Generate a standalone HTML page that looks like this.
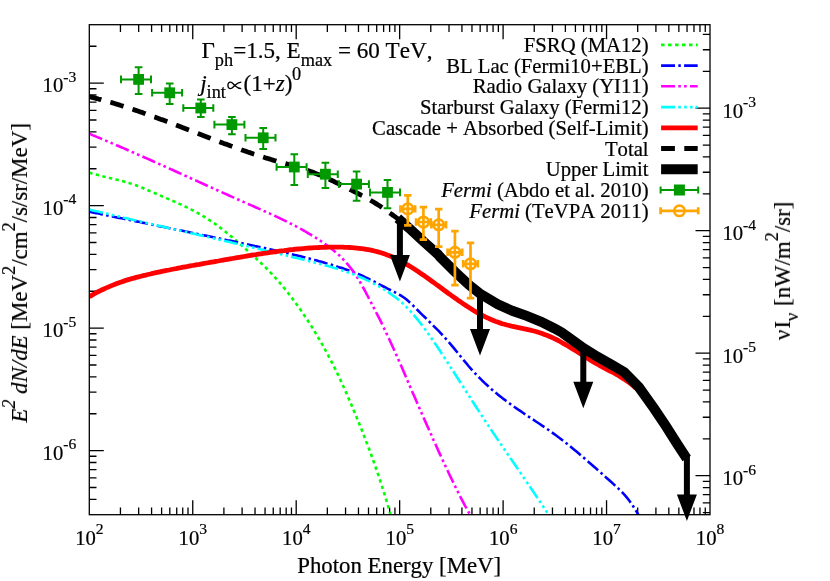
<!DOCTYPE html>
<html><head><meta charset="utf-8"><title>Plot</title>
<style>html,body{margin:0;padding:0;background:#fff}body{width:830px;height:581px;overflow:hidden;font-family:"Liberation Serif",serif}</style></head>
<body>
<svg width="830" height="581" viewBox="0 0 830 581" style="display:block">
<rect width="830" height="581" fill="#fff"/>
<defs><filter id="tf" x="0" y="0" width="100%" height="100%" filterUnits="userSpaceOnUse" color-interpolation-filters="sRGB"><feOffset dx="0" dy="0"/></filter><clipPath id="cp"><rect x="89.3" y="24.7" width="620.7" height="490.00000000000006"/></clipPath></defs>
<path d="M120.44,514.7v-7.2M120.44,24.7v7.2M138.66,514.7v-7.2M138.66,24.7v7.2M151.58,514.7v-7.2M151.58,24.7v7.2M161.61,514.7v-7.2M161.61,24.7v7.2M169.80,514.7v-7.2M169.80,24.7v7.2M176.73,514.7v-7.2M176.73,24.7v7.2M182.72,514.7v-7.2M182.72,24.7v7.2M188.02,514.7v-7.2M188.02,24.7v7.2M192.75,514.7v-14.5M192.75,24.7v14.5M223.89,514.7v-7.2M223.89,24.7v7.2M242.11,514.7v-7.2M242.11,24.7v7.2M255.03,514.7v-7.2M255.03,24.7v7.2M265.06,514.7v-7.2M265.06,24.7v7.2M273.25,514.7v-7.2M273.25,24.7v7.2M280.18,514.7v-7.2M280.18,24.7v7.2M286.17,514.7v-7.2M286.17,24.7v7.2M291.47,514.7v-7.2M291.47,24.7v7.2M296.20,514.7v-14.5M296.20,24.7v14.5M327.34,514.7v-7.2M327.34,24.7v7.2M345.56,514.7v-7.2M345.56,24.7v7.2M358.48,514.7v-7.2M358.48,24.7v7.2M368.51,514.7v-7.2M368.51,24.7v7.2M376.70,514.7v-7.2M376.70,24.7v7.2M383.63,514.7v-7.2M383.63,24.7v7.2M389.62,514.7v-7.2M389.62,24.7v7.2M394.92,514.7v-7.2M394.92,24.7v7.2M399.65,514.7v-14.5M399.65,24.7v14.5M430.79,514.7v-7.2M430.79,24.7v7.2M449.01,514.7v-7.2M449.01,24.7v7.2M461.93,514.7v-7.2M461.93,24.7v7.2M471.96,514.7v-7.2M471.96,24.7v7.2M480.15,514.7v-7.2M480.15,24.7v7.2M487.08,514.7v-7.2M487.08,24.7v7.2M493.07,514.7v-7.2M493.07,24.7v7.2M498.37,514.7v-7.2M498.37,24.7v7.2M503.10,514.7v-14.5M503.10,24.7v14.5M534.24,514.7v-7.2M534.24,24.7v7.2M552.46,514.7v-7.2M552.46,24.7v7.2M565.38,514.7v-7.2M565.38,24.7v7.2M575.41,514.7v-7.2M575.41,24.7v7.2M583.60,514.7v-7.2M583.60,24.7v7.2M590.53,514.7v-7.2M590.53,24.7v7.2M596.52,514.7v-7.2M596.52,24.7v7.2M601.82,514.7v-7.2M601.82,24.7v7.2M606.55,514.7v-14.5M606.55,24.7v14.5M637.69,514.7v-7.2M637.69,24.7v7.2M655.91,514.7v-7.2M655.91,24.7v7.2M668.83,514.7v-7.2M668.83,24.7v7.2M678.86,514.7v-7.2M678.86,24.7v7.2M687.05,514.7v-7.2M687.05,24.7v7.2M693.98,514.7v-7.2M693.98,24.7v7.2M699.97,514.7v-7.2M699.97,24.7v7.2M705.27,514.7v-7.2M705.27,24.7v7.2M89.3,499.40h7.2M89.3,487.52h7.2M710.0,512.59h-7.2M89.3,477.82h7.2M710.0,502.89h-7.2M89.3,469.62h7.2M710.0,494.69h-7.2M89.3,462.52h7.2M710.0,487.59h-7.2M89.3,456.25h7.2M710.0,481.32h-7.2M89.3,450.65h14.5M710.0,475.72h-14.5M89.3,413.77h7.2M710.0,438.84h-7.2M89.3,392.20h7.2M710.0,417.27h-7.2M89.3,376.90h7.2M710.0,401.97h-7.2M89.3,365.02h7.2M710.0,390.09h-7.2M89.3,355.32h7.2M710.0,380.39h-7.2M89.3,347.12h7.2M710.0,372.19h-7.2M89.3,340.02h7.2M710.0,365.09h-7.2M89.3,333.75h7.2M710.0,358.82h-7.2M89.3,328.15h14.5M710.0,353.22h-14.5M89.3,291.27h7.2M710.0,316.34h-7.2M89.3,269.70h7.2M710.0,294.77h-7.2M89.3,254.40h7.2M710.0,279.47h-7.2M89.3,242.52h7.2M710.0,267.59h-7.2M89.3,232.82h7.2M710.0,257.89h-7.2M89.3,224.62h7.2M710.0,249.69h-7.2M89.3,217.52h7.2M710.0,242.59h-7.2M89.3,211.25h7.2M710.0,236.32h-7.2M89.3,205.65h14.5M710.0,230.72h-14.5M89.3,168.77h7.2M710.0,193.84h-7.2M89.3,147.20h7.2M710.0,172.27h-7.2M89.3,131.90h7.2M710.0,156.97h-7.2M89.3,120.02h7.2M710.0,145.09h-7.2M89.3,110.32h7.2M710.0,135.39h-7.2M89.3,102.12h7.2M710.0,127.19h-7.2M89.3,95.02h7.2M710.0,120.09h-7.2M89.3,88.75h7.2M710.0,113.82h-7.2M89.3,83.15h14.5M710.0,108.22h-14.5M89.3,46.27h7.2M710.0,71.34h-7.2M710.0,49.77h-7.2M710.0,34.47h-7.2" stroke="#000" stroke-width="1.3" fill="none"/>
<g clip-path="url(#cp)" fill="none" stroke-linejoin="round">
<path d="M89.3,172.7 L90.6,173.1 L91.8,173.4 L93.1,173.8 L94.3,174.1 L95.6,174.5 L96.9,174.8 L98.1,175.1 L99.4,175.4 L100.6,175.7 L101.9,176.1 L103.2,176.4 L104.4,176.7 L105.7,177.0 L106.9,177.3 L108.2,177.6 L109.5,177.9 L110.7,178.2 L112.0,178.5 L113.3,178.8 L114.5,179.1 L115.8,179.4 L117.0,179.7 L118.3,180.0 L119.6,180.3 L120.8,180.7 L122.1,181.0 L123.3,181.3 L124.6,181.7 L125.9,182.0 L127.1,182.4 L128.4,182.8 L129.6,183.2 L130.9,183.6 L132.2,184.0 L133.4,184.4 L134.7,184.9 L135.9,185.3 L137.2,185.8 L138.5,186.3 L139.7,186.8 L141.0,187.3 L142.2,187.8 L143.5,188.3 L144.8,188.9 L146.0,189.4 L147.3,189.9 L148.6,190.5 L149.8,191.1 L151.1,191.6 L152.3,192.2 L153.6,192.7 L154.9,193.2 L156.1,193.8 L157.4,194.3 L158.6,194.9 L159.9,195.4 L161.2,195.9 L162.4,196.5 L163.7,197.0 L164.9,197.5 L166.2,198.1 L167.5,198.6 L168.7,199.1 L170.0,199.7 L171.2,200.2 L172.5,200.8 L173.8,201.3 L175.0,201.9 L176.3,202.4 L177.5,203.0 L178.8,203.6 L180.1,204.1 L181.3,204.7 L182.6,205.3 L183.9,205.9 L185.1,206.5 L186.4,207.1 L187.6,207.7 L188.9,208.3 L190.2,208.9 L191.4,209.6 L192.7,210.2 L193.9,210.9 L195.2,211.6 L196.5,212.3 L197.7,213.0 L199.0,213.7 L200.2,214.4 L201.5,215.1 L202.8,215.9 L204.0,216.6 L205.3,217.4 L206.5,218.2 L207.8,219.0 L209.1,219.8 L210.3,220.6 L211.6,221.5 L212.8,222.4 L214.1,223.2 L215.4,224.1 L216.6,225.1 L217.9,226.0 L219.1,226.9 L220.4,227.9 L221.7,228.8 L222.9,229.8 L224.2,230.8 L225.5,231.8 L226.7,232.8 L228.0,233.8 L229.2,234.8 L230.5,235.9 L231.8,236.9 L233.0,238.0 L234.3,239.1 L235.5,240.1 L236.8,241.2 L238.1,242.3 L239.3,243.4 L240.6,244.5 L241.8,245.6 L243.1,246.7 L244.4,247.8 L245.6,249.0 L246.9,250.1 L248.1,251.2 L249.4,252.4 L250.7,253.5 L251.9,254.7 L253.2,255.8 L254.4,257.0 L255.7,258.1 L257.0,259.3 L258.2,260.4 L259.5,261.6 L260.8,262.8 L262.0,264.0 L263.3,265.2 L264.5,266.5 L265.8,267.7 L267.1,269.0 L268.3,270.3 L269.6,271.6 L270.8,272.9 L272.1,274.2 L273.4,275.6 L274.6,277.0 L275.9,278.4 L277.1,279.8 L278.4,281.2 L279.7,282.7 L280.9,284.2 L282.2,285.7 L283.4,287.2 L284.7,288.7 L286.0,290.3 L287.2,291.9 L288.5,293.5 L289.7,295.1 L291.0,296.7 L292.3,298.4 L293.5,300.1 L294.8,301.8 L296.0,303.5 L297.3,305.2 L298.6,307.0 L299.8,308.8 L301.1,310.6 L302.4,312.4 L303.6,314.3 L304.9,316.2 L306.1,318.1 L307.4,320.0 L308.7,321.9 L309.9,323.9 L311.2,325.9 L312.4,327.9 L313.7,330.0 L315.0,332.1 L316.2,334.1 L317.5,336.3 L318.7,338.4 L320.0,340.6 L321.3,342.8 L322.5,345.0 L323.8,347.3 L325.0,349.5 L326.3,351.8 L327.6,354.2 L328.8,356.6 L330.1,359.0 L331.3,361.4 L332.6,363.9 L333.9,366.4 L335.1,368.9 L336.4,371.5 L337.7,374.1 L338.9,376.7 L340.2,379.4 L341.4,382.1 L342.7,384.9 L344.0,387.7 L345.2,390.5 L346.5,393.4 L347.7,396.3 L349.0,399.2 L350.3,402.1 L351.5,405.1 L352.8,408.1 L354.0,411.1 L355.3,414.1 L356.6,417.2 L357.8,420.2 L359.1,423.3 L360.3,426.5 L361.6,429.6 L362.9,432.8 L364.1,436.0 L365.4,439.3 L366.6,442.6 L367.9,445.9 L369.2,449.3 L370.4,452.7 L371.7,456.2 L373.0,459.6 L374.2,463.2 L375.5,466.8 L376.7,470.4 L378.0,474.1 L379.3,477.8 L380.5,481.7 L381.8,485.5 L383.0,489.5 L384.3,493.5 L385.6,497.6 L386.8,501.8 L388.1,506.1 L389.3,510.4 L390.6,514.9" stroke="#00ff00" stroke-width="2.6" stroke-dasharray="3.38 3.38"/>
<path d="M89.3,211.7 L91.6,212.2 L93.9,212.7 L96.2,213.1 L98.5,213.6 L100.8,214.1 L103.1,214.5 L105.4,215.0 L107.7,215.5 L110.0,216.0 L112.3,216.4 L114.6,216.9 L116.9,217.4 L119.2,217.9 L121.5,218.3 L123.8,218.8 L126.1,219.3 L128.4,219.7 L130.7,220.2 L133.0,220.7 L135.3,221.2 L137.6,221.6 L139.9,222.1 L142.2,222.6 L144.5,223.0 L146.8,223.5 L149.1,224.0 L151.4,224.5 L153.7,224.9 L156.0,225.4 L158.2,225.9 L160.5,226.4 L162.8,226.8 L165.1,227.3 L167.4,227.8 L169.7,228.2 L172.0,228.7 L174.3,229.2 L176.6,229.7 L178.9,230.1 L181.2,230.6 L183.5,231.1 L185.8,231.6 L188.1,232.0 L190.4,232.5 L192.7,233.0 L195.0,233.5 L197.3,233.9 L199.6,234.4 L201.9,234.9 L204.2,235.4 L206.5,235.8 L208.8,236.3 L211.1,236.8 L213.4,237.3 L215.7,237.8 L218.0,238.2 L220.3,238.7 L222.6,239.2 L224.9,239.7 L227.2,240.2 L229.5,240.6 L231.8,241.1 L234.1,241.6 L236.4,242.1 L238.7,242.6 L241.0,243.0 L243.3,243.5 L245.6,244.0 L247.9,244.5 L250.2,245.0 L252.5,245.5 L254.8,246.0 L257.1,246.4 L259.4,246.9 L261.7,247.4 L264.0,247.9 L266.3,248.4 L268.6,248.9 L270.9,249.4 L273.2,249.9 L275.5,250.4 L277.8,250.9 L280.1,251.4 L282.4,252.0 L284.7,252.5 L287.0,253.0 L289.3,253.6 L291.6,254.1 L293.9,254.7 L296.1,255.2 L298.4,255.8 L300.7,256.3 L303.0,256.9 L305.3,257.5 L307.6,258.1 L309.9,258.7 L312.2,259.3 L314.5,259.9 L316.8,260.5 L319.1,261.2 L321.4,261.8 L323.7,262.5 L326.0,263.2 L328.3,263.8 L330.6,264.5 L332.9,265.2 L335.2,265.9 L337.5,266.7 L339.8,267.4 L342.1,268.1 L344.4,268.9 L346.7,269.7 L349.0,270.5 L351.3,271.4 L353.6,272.2 L355.9,273.1 L358.2,274.0 L360.5,275.0 L362.8,276.0 L365.1,277.1 L367.4,278.1 L369.7,279.3 L372.0,280.4 L374.3,281.6 L376.6,282.8 L378.9,284.1 L381.2,285.3 L383.5,286.5 L385.8,287.7 L388.1,288.9 L390.4,290.0 L392.7,291.2 L395.0,292.3 L397.3,293.5 L399.6,294.8 L401.9,296.2 L404.2,297.8 L406.5,299.6 L408.8,301.6 L411.1,303.7 L413.4,305.9 L415.7,308.2 L418.0,310.5 L420.3,312.8 L422.6,315.1 L424.9,317.3 L427.2,319.5 L429.5,321.8 L431.8,324.0 L434.0,326.3 L436.3,328.6 L438.6,330.9 L440.9,333.3 L443.2,335.8 L445.5,338.3 L447.8,340.9 L450.1,343.6 L452.4,346.3 L454.7,349.1 L457.0,352.0 L459.3,354.8 L461.6,357.7 L463.9,360.5 L466.2,363.2 L468.5,366.0 L470.8,368.6 L473.1,371.2 L475.4,373.7 L477.7,376.1 L480.0,378.4 L482.3,380.7 L484.6,382.9 L486.9,385.0 L489.2,387.1 L491.5,389.2 L493.8,391.1 L496.1,393.1 L498.4,394.9 L500.7,396.8 L503.0,398.6 L505.3,400.3 L507.6,402.0 L509.9,403.7 L512.2,405.4 L514.5,407.0 L516.8,408.6 L519.1,410.2 L521.4,411.7 L523.7,413.3 L526.0,414.8 L528.3,416.4 L530.6,417.9 L532.9,419.4 L535.2,421.0 L537.5,422.5 L539.8,424.0 L542.1,425.6 L544.4,427.1 L546.7,428.7 L549.0,430.3 L551.3,432.0 L553.6,433.6 L555.9,435.3 L558.2,437.0 L560.5,438.7 L562.8,440.5 L565.1,442.3 L567.4,444.1 L569.7,445.9 L571.9,447.8 L574.2,449.7 L576.5,451.6 L578.8,453.5 L581.1,455.5 L583.4,457.4 L585.7,459.4 L588.0,461.4 L590.3,463.4 L592.6,465.4 L594.9,467.4 L597.2,469.5 L599.5,471.5 L601.8,473.6 L604.1,475.6 L606.4,477.7 L608.7,479.7 L611.0,481.8 L613.3,483.9 L615.6,486.0 L617.9,488.1 L620.2,490.3 L622.5,492.7 L624.8,495.2 L627.1,497.9 L629.4,500.8 L631.7,504.1 L634.0,507.5 L636.3,511.2 L638.6,515.2" stroke="#0000ff" stroke-width="2.6" stroke-dasharray="13.9 3.3 2.5 3.3"/>
<path d="M89.3,133.8 L90.9,134.4 L92.5,135.1 L94.1,135.7 L95.7,136.4 L97.3,137.1 L98.9,137.7 L100.5,138.4 L102.0,139.1 L103.6,139.7 L105.2,140.4 L106.8,141.1 L108.4,141.8 L110.0,142.4 L111.6,143.1 L113.2,143.8 L114.8,144.5 L116.4,145.2 L118.0,145.8 L119.6,146.5 L121.2,147.2 L122.8,147.9 L124.4,148.6 L126.0,149.3 L127.5,150.0 L129.1,150.7 L130.7,151.4 L132.3,152.1 L133.9,152.8 L135.5,153.5 L137.1,154.2 L138.7,154.9 L140.3,155.6 L141.9,156.3 L143.5,157.0 L145.1,157.7 L146.7,158.4 L148.3,159.1 L149.9,159.8 L151.5,160.5 L153.0,161.2 L154.6,162.0 L156.2,162.7 L157.8,163.4 L159.4,164.1 L161.0,164.8 L162.6,165.5 L164.2,166.2 L165.8,167.0 L167.4,167.7 L169.0,168.4 L170.6,169.1 L172.2,169.8 L173.8,170.5 L175.4,171.3 L177.0,172.0 L178.5,172.7 L180.1,173.4 L181.7,174.1 L183.3,174.9 L184.9,175.6 L186.5,176.3 L188.1,177.0 L189.7,177.7 L191.3,178.5 L192.9,179.2 L194.5,179.9 L196.1,180.6 L197.7,181.3 L199.3,182.1 L200.9,182.8 L202.5,183.5 L204.0,184.2 L205.6,185.0 L207.2,185.7 L208.8,186.4 L210.4,187.1 L212.0,187.8 L213.6,188.6 L215.2,189.3 L216.8,190.0 L218.4,190.7 L220.0,191.4 L221.6,192.1 L223.2,192.9 L224.8,193.6 L226.4,194.3 L228.0,195.0 L229.5,195.7 L231.1,196.4 L232.7,197.1 L234.3,197.9 L235.9,198.6 L237.5,199.3 L239.1,200.0 L240.7,200.7 L242.3,201.4 L243.9,202.1 L245.5,202.8 L247.1,203.5 L248.7,204.2 L250.3,204.9 L251.9,205.6 L253.5,206.3 L255.0,207.0 L256.6,207.7 L258.2,208.4 L259.8,209.1 L261.4,209.8 L263.0,210.5 L264.6,211.3 L266.2,212.0 L267.8,212.7 L269.4,213.4 L271.0,214.1 L272.6,214.8 L274.2,215.6 L275.8,216.3 L277.4,217.1 L279.0,217.8 L280.5,218.6 L282.1,219.3 L283.7,220.1 L285.3,220.9 L286.9,221.7 L288.5,222.5 L290.1,223.3 L291.7,224.1 L293.3,224.9 L294.9,225.7 L296.5,226.6 L298.1,227.4 L299.7,228.3 L301.3,229.2 L302.9,230.1 L304.5,231.0 L306.0,231.9 L307.6,232.8 L309.2,233.8 L310.8,234.7 L312.4,235.7 L314.0,236.7 L315.6,237.7 L317.2,238.7 L318.8,239.7 L320.4,240.8 L322.0,241.9 L323.6,243.0 L325.2,244.1 L326.8,245.2 L328.4,246.4 L330.0,247.6 L331.5,248.8 L333.1,250.1 L334.7,251.4 L336.3,252.7 L337.9,254.2 L339.5,255.6 L341.1,257.2 L342.7,258.8 L344.3,260.5 L345.9,262.2 L347.5,264.1 L349.1,266.0 L350.7,268.0 L352.3,270.1 L353.9,272.4 L355.5,274.7 L357.0,277.1 L358.6,279.6 L360.2,282.3 L361.8,285.1 L363.4,288.0 L365.0,290.9 L366.6,294.0 L368.2,297.0 L369.8,300.1 L371.4,303.2 L373.0,306.3 L374.6,309.4 L376.2,312.5 L377.8,315.6 L379.4,318.7 L381.0,321.9 L382.5,325.2 L384.1,328.4 L385.7,331.8 L387.3,335.1 L388.9,338.5 L390.5,342.0 L392.1,345.5 L393.7,349.0 L395.3,352.6 L396.9,356.1 L398.5,359.8 L400.1,363.4 L401.7,367.0 L403.3,370.7 L404.9,374.4 L406.5,378.1 L408.0,381.8 L409.6,385.5 L411.2,389.2 L412.8,392.9 L414.4,396.6 L416.0,400.3 L417.6,403.9 L419.2,407.6 L420.8,411.3 L422.4,414.9 L424.0,418.5 L425.6,422.1 L427.2,425.7 L428.8,429.3 L430.4,432.9 L432.0,436.4 L433.5,440.0 L435.1,443.5 L436.7,447.0 L438.3,450.6 L439.9,454.1 L441.5,457.5 L443.1,461.0 L444.7,464.5 L446.3,467.9 L447.9,471.3 L449.5,474.7 L451.1,478.0 L452.7,481.3 L454.3,484.6 L455.9,487.8 L457.5,491.0 L459.0,494.2 L460.6,497.3 L462.2,500.3 L463.8,503.3 L465.4,506.3 L467.0,509.1 L468.6,512.0 L470.2,514.7" stroke="#ff00ff" stroke-width="2.6" stroke-dasharray="13.9 3.3 2.6 3.2 2.6 3.3"/>
<path d="M89.3,209.5 L91.2,210.0 L93.1,210.4 L95.1,210.9 L97.0,211.3 L98.9,211.8 L100.8,212.2 L102.8,212.7 L104.7,213.2 L106.6,213.6 L108.5,214.1 L110.5,214.5 L112.4,215.0 L114.3,215.4 L116.2,215.9 L118.1,216.3 L120.1,216.8 L122.0,217.2 L123.9,217.7 L125.8,218.1 L127.8,218.5 L129.7,219.0 L131.6,219.4 L133.5,219.9 L135.5,220.3 L137.4,220.8 L139.3,221.2 L141.2,221.7 L143.1,222.1 L145.1,222.6 L147.0,223.0 L148.9,223.4 L150.8,223.9 L152.8,224.3 L154.7,224.8 L156.6,225.2 L158.5,225.7 L160.5,226.1 L162.4,226.5 L164.3,227.0 L166.2,227.4 L168.1,227.9 L170.1,228.3 L172.0,228.7 L173.9,229.2 L175.8,229.6 L177.8,230.1 L179.7,230.5 L181.6,231.0 L183.5,231.4 L185.5,231.8 L187.4,232.3 L189.3,232.7 L191.2,233.2 L193.1,233.6 L195.1,234.0 L197.0,234.5 L198.9,234.9 L200.8,235.4 L202.8,235.8 L204.7,236.3 L206.6,236.7 L208.5,237.1 L210.4,237.6 L212.4,238.0 L214.3,238.5 L216.2,238.9 L218.1,239.4 L220.1,239.8 L222.0,240.3 L223.9,240.7 L225.8,241.2 L227.8,241.6 L229.7,242.0 L231.6,242.5 L233.5,242.9 L235.4,243.4 L237.4,243.8 L239.3,244.3 L241.2,244.7 L243.1,245.2 L245.1,245.6 L247.0,246.1 L248.9,246.6 L250.8,247.0 L252.8,247.5 L254.7,247.9 L256.6,248.4 L258.5,248.8 L260.4,249.3 L262.4,249.7 L264.3,250.2 L266.2,250.7 L268.1,251.1 L270.1,251.6 L272.0,252.0 L273.9,252.5 L275.8,253.0 L277.8,253.4 L279.7,253.9 L281.6,254.4 L283.5,254.8 L285.4,255.3 L287.4,255.8 L289.3,256.2 L291.2,256.7 L293.1,257.2 L295.1,257.7 L297.0,258.1 L298.9,258.6 L300.8,259.1 L302.8,259.6 L304.7,260.0 L306.6,260.5 L308.5,261.0 L310.4,261.5 L312.4,262.0 L314.3,262.5 L316.2,262.9 L318.1,263.4 L320.1,263.9 L322.0,264.4 L323.9,265.0 L325.8,265.5 L327.8,266.0 L329.7,266.6 L331.6,267.1 L333.5,267.7 L335.4,268.2 L337.4,268.8 L339.3,269.4 L341.2,270.0 L343.1,270.7 L345.1,271.3 L347.0,272.0 L348.9,272.7 L350.8,273.4 L352.8,274.1 L354.7,274.8 L356.6,275.6 L358.5,276.4 L360.4,277.2 L362.4,278.0 L364.3,278.9 L366.2,279.8 L368.1,280.7 L370.1,281.6 L372.0,282.6 L373.9,283.6 L375.8,284.6 L377.8,285.7 L379.7,286.8 L381.6,287.9 L383.5,289.1 L385.4,290.3 L387.4,291.6 L389.3,292.9 L391.2,294.2 L393.1,295.6 L395.1,297.0 L397.0,298.5 L398.9,300.1 L400.8,301.7 L402.8,303.4 L404.7,305.2 L406.6,307.1 L408.5,309.1 L410.4,311.2 L412.4,313.3 L414.3,315.6 L416.2,317.9 L418.1,320.2 L420.1,322.7 L422.0,325.2 L423.9,327.7 L425.8,330.3 L427.8,333.0 L429.7,335.7 L431.6,338.5 L433.5,341.3 L435.4,344.1 L437.4,346.9 L439.3,349.8 L441.2,352.7 L443.1,355.7 L445.1,358.6 L447.0,361.5 L448.9,364.5 L450.8,367.5 L452.7,370.5 L454.7,373.5 L456.6,376.5 L458.5,379.5 L460.4,382.5 L462.4,385.5 L464.3,388.5 L466.2,391.5 L468.1,394.5 L470.1,397.5 L472.0,400.5 L473.9,403.5 L475.8,406.5 L477.7,409.4 L479.7,412.4 L481.6,415.4 L483.5,418.3 L485.4,421.2 L487.4,424.1 L489.3,427.0 L491.2,429.9 L493.1,432.8 L495.1,435.6 L497.0,438.5 L498.9,441.3 L500.8,444.1 L502.7,447.0 L504.7,449.8 L506.6,452.6 L508.5,455.4 L510.4,458.2 L512.4,461.0 L514.3,463.8 L516.2,466.6 L518.1,469.4 L520.1,472.2 L522.0,475.1 L523.9,477.9 L525.8,480.7 L527.7,483.5 L529.7,486.3 L531.6,489.2 L533.5,492.0 L535.4,494.9 L537.4,497.7 L539.3,500.6 L541.2,503.5 L543.1,506.4 L545.1,509.3 L547.0,512.2 L548.9,515.1" stroke="#00ffff" stroke-width="2.6" stroke-dasharray="13.9 3.3 2.6 3.25 2.6 3.25 2.6 3.05"/>
<path d="M89.3,296.8 L91.6,295.4 L94.0,294.0 L96.3,292.7 L98.7,291.5 L101.0,290.3 L103.4,289.2 L105.7,288.1 L108.1,287.1 L110.4,286.1 L112.8,285.1 L115.1,284.2 L117.5,283.3 L119.8,282.5 L122.1,281.7 L124.5,280.9 L126.8,280.1 L129.2,279.4 L131.5,278.7 L133.9,278.1 L136.2,277.4 L138.6,276.8 L140.9,276.2 L143.3,275.6 L145.6,275.1 L148.0,274.5 L150.3,274.0 L152.6,273.4 L155.0,272.9 L157.3,272.4 L159.7,271.9 L162.0,271.4 L164.4,270.9 L166.7,270.4 L169.1,270.0 L171.4,269.5 L173.8,269.0 L176.1,268.6 L178.4,268.1 L180.8,267.7 L183.1,267.2 L185.5,266.8 L187.8,266.4 L190.2,265.9 L192.5,265.5 L194.9,265.1 L197.2,264.7 L199.6,264.3 L201.9,263.8 L204.3,263.4 L206.6,263.0 L208.9,262.6 L211.3,262.2 L213.6,261.8 L216.0,261.4 L218.3,261.0 L220.7,260.5 L223.0,260.1 L225.4,259.7 L227.7,259.3 L230.1,258.9 L232.4,258.5 L234.8,258.1 L237.1,257.7 L239.4,257.3 L241.8,256.9 L244.1,256.5 L246.5,256.1 L248.8,255.7 L251.2,255.3 L253.5,254.9 L255.9,254.6 L258.2,254.2 L260.6,253.8 L262.9,253.5 L265.3,253.1 L267.6,252.8 L269.9,252.4 L272.3,252.1 L274.6,251.8 L277.0,251.5 L279.3,251.1 L281.7,250.8 L284.0,250.6 L286.4,250.3 L288.7,250.0 L291.1,249.7 L293.4,249.5 L295.8,249.2 L298.1,249.0 L300.4,248.8 L302.8,248.6 L305.1,248.4 L307.5,248.2 L309.8,248.0 L312.2,247.9 L314.5,247.7 L316.9,247.6 L319.2,247.5 L321.6,247.4 L323.9,247.3 L326.2,247.3 L328.6,247.2 L330.9,247.2 L333.3,247.1 L335.6,247.1 L338.0,247.1 L340.3,247.2 L342.7,247.2 L345.0,247.3 L347.4,247.4 L349.7,247.5 L352.1,247.7 L354.4,247.9 L356.7,248.1 L359.1,248.3 L361.4,248.6 L363.8,248.9 L366.1,249.3 L368.5,249.7 L370.8,250.2 L373.2,250.7 L375.5,251.3 L377.9,251.9 L380.2,252.5 L382.6,253.3 L384.9,254.1 L387.2,254.9 L389.6,255.8 L391.9,256.8 L394.3,257.8 L396.6,259.0 L399.0,260.1 L401.3,261.4 L403.7,262.6 L406.0,264.0 L408.4,265.4 L410.7,266.8 L413.1,268.3 L415.4,269.8 L417.7,271.3 L420.1,272.9 L422.4,274.5 L424.8,276.1 L427.1,277.8 L429.5,279.5 L431.8,281.2 L434.2,282.9 L436.5,284.6 L438.9,286.3 L441.2,288.0 L443.5,289.7 L445.9,291.5 L448.2,293.2 L450.6,294.9 L452.9,296.6 L455.3,298.2 L457.6,299.9 L460.0,301.5 L462.3,303.1 L464.7,304.7 L467.0,306.3 L469.4,307.8 L471.7,309.2 L474.0,310.7 L476.4,312.1 L478.7,313.4 L481.1,314.7 L483.4,315.9 L485.8,317.1 L488.1,318.2 L490.5,319.3 L492.8,320.3 L495.2,321.3 L497.5,322.1 L499.9,322.9 L502.2,323.7 L504.5,324.3 L506.9,325.0 L509.2,325.5 L511.6,326.1 L513.9,326.6 L516.3,327.1 L518.6,327.6 L521.0,328.1 L523.3,328.6 L525.7,329.1 L528.0,329.6 L530.4,330.1 L532.7,330.7 L535.0,331.3 L537.4,332.0 L539.7,332.7 L542.1,333.5 L544.4,334.4 L546.8,335.3 L549.1,336.2 L551.5,337.3 L553.8,338.4 L556.2,339.5 L558.5,340.7 L560.9,342.0 L563.2,343.3 L565.5,344.6 L567.9,346.0 L570.2,347.4 L572.6,348.9 L574.9,350.3 L577.3,351.8 L579.6,353.3 L582.0,354.8 L584.3,356.3 L586.7,357.8 L589.0,359.2 L591.3,360.7 L593.7,362.1 L596.0,363.4 L598.4,364.8 L600.7,366.1 L603.1,367.3 L605.4,368.5 L607.8,369.8 L610.1,371.0 L612.5,372.2 L614.8,373.5 L617.2,374.8 L619.5,376.2 L621.8,377.6 L624.2,379.1 L626.5,380.7 L628.9,382.4 L631.2,384.2 L633.6,386.1 L635.9,388.1 L638.3,390.3 L640.6,392.7 L643.0,395.2 L645.3,397.9 L647.7,400.8 L650.0,403.9" stroke="#ff0000" stroke-width="4.8"/>
<path d="M89.3,96.7 L90.6,97.0 L91.9,97.3 L93.2,97.6 L94.5,98.0 L95.8,98.3 L97.1,98.6 L98.4,99.0 L99.6,99.3 L100.9,99.6 L102.2,100.0 L103.5,100.3 L104.8,100.7 L106.1,101.1 L107.4,101.4 L108.7,101.8 L110.0,102.2 L111.3,102.5 L112.6,102.9 L113.9,103.3 L115.2,103.7 L116.5,104.1 L117.8,104.5 L119.1,104.9 L120.3,105.3 L121.6,105.7 L122.9,106.1 L124.2,106.5 L125.5,106.9 L126.8,107.3 L128.1,107.8 L129.4,108.2 L130.7,108.6 L132.0,109.1 L133.3,109.5 L134.6,109.9 L135.9,110.4 L137.2,110.8 L138.5,111.2 L139.8,111.7 L141.0,112.1 L142.3,112.6 L143.6,113.1 L144.9,113.5 L146.2,114.0 L147.5,114.4 L148.8,114.9 L150.1,115.4 L151.4,115.8 L152.7,116.3 L154.0,116.8 L155.3,117.2 L156.6,117.7 L157.9,118.2 L159.2,118.7 L160.5,119.2 L161.7,119.6 L163.0,120.1 L164.3,120.6 L165.6,121.1 L166.9,121.6 L168.2,122.1 L169.5,122.6 L170.8,123.1 L172.1,123.5 L173.4,124.0 L174.7,124.5 L176.0,125.0 L177.3,125.5 L178.6,126.0 L179.9,126.5 L181.2,127.0 L182.4,127.5 L183.7,128.0 L185.0,128.5 L186.3,129.0 L187.6,129.5 L188.9,130.0 L190.2,130.5 L191.5,131.0 L192.8,131.5 L194.1,132.0 L195.4,132.5 L196.7,133.0 L198.0,133.5 L199.3,134.0 L200.6,134.5 L201.9,135.0 L203.1,135.5 L204.4,136.0 L205.7,136.5 L207.0,137.0 L208.3,137.5 L209.6,138.0 L210.9,138.5 L212.2,139.0 L213.5,139.5 L214.8,140.0 L216.1,140.5 L217.4,140.9 L218.7,141.4 L220.0,141.9 L221.3,142.4 L222.6,142.9 L223.8,143.4 L225.1,143.9 L226.4,144.3 L227.7,144.8 L229.0,145.3 L230.3,145.8 L231.6,146.2 L232.9,146.7 L234.2,147.2 L235.5,147.7 L236.8,148.1 L238.1,148.6 L239.4,149.0 L240.7,149.5 L242.0,150.0 L243.3,150.4 L244.5,150.9 L245.8,151.3 L247.1,151.8 L248.4,152.2 L249.7,152.6 L251.0,153.1 L252.3,153.5 L253.6,154.0 L254.9,154.4 L256.2,154.8 L257.5,155.2 L258.8,155.7 L260.1,156.1 L261.4,156.5 L262.7,156.9 L264.0,157.3 L265.2,157.7 L266.5,158.1 L267.8,158.5 L269.1,158.9 L270.4,159.3 L271.7,159.7 L273.0,160.1 L274.3,160.5 L275.6,160.8 L276.9,161.2 L278.2,161.6 L279.5,161.9 L280.8,162.3 L282.1,162.7 L283.4,163.0 L284.7,163.4 L285.9,163.7 L287.2,164.1 L288.5,164.5 L289.8,164.8 L291.1,165.2 L292.4,165.6 L293.7,165.9 L295.0,166.3 L296.3,166.7 L297.6,167.1 L298.9,167.5 L300.2,167.9 L301.5,168.3 L302.8,168.7 L304.1,169.1 L305.4,169.5 L306.6,170.0 L307.9,170.4 L309.2,170.9 L310.5,171.4 L311.8,171.9 L313.1,172.3 L314.4,172.9 L315.7,173.4 L317.0,173.9 L318.3,174.4 L319.6,175.0 L320.9,175.5 L322.2,176.1 L323.5,176.7 L324.8,177.2 L326.1,177.8 L327.3,178.4 L328.6,179.0 L329.9,179.6 L331.2,180.2 L332.5,180.8 L333.8,181.4 L335.1,182.1 L336.4,182.7 L337.7,183.3 L339.0,183.9 L340.3,184.6 L341.6,185.2 L342.9,185.9 L344.2,186.5 L345.5,187.2 L346.8,187.8 L348.0,188.5 L349.3,189.1 L350.6,189.8 L351.9,190.4 L353.2,191.1 L354.5,191.7 L355.8,192.4 L357.1,193.0 L358.4,193.7 L359.7,194.4 L361.0,195.1 L362.3,195.7 L363.6,196.4 L364.9,197.1 L366.2,197.8 L367.5,198.6 L368.7,199.3 L370.0,200.0 L371.3,200.8 L372.6,201.5 L373.9,202.3 L375.2,203.1 L376.5,203.9 L377.8,204.7 L379.1,205.5 L380.4,206.4 L381.7,207.2 L383.0,208.1 L384.3,209.0 L385.6,209.9 L386.9,210.8 L388.2,211.7 L389.4,212.7 L390.7,213.6 L392.0,214.5 L393.3,215.5 L394.6,216.4 L395.9,217.4 L397.2,218.3 L398.5,219.3" stroke="#000" stroke-width="4.8" stroke-dasharray="13.8 9.4" stroke-dashoffset="1.4"/>
<path d="M397.8,218.2 L408.9,227.9 L423.4,241.4 L437.8,254.2 L440.0,256.9 L454.5,271.4 L468.9,284.8 L479.7,293.5 L497.8,304.3 L512.3,310.8 L526.7,315.9 L541.2,321.8 L554.5,328.5 L561.7,332.5 L568.9,337.6 L583.4,348.0 L597.8,357.0 L612.3,365.0 L624.3,372.2 L638.8,387.0 L654.2,408.6 L666.5,427.0 L676.6,443.0 L686.7,458.4" stroke="#000" stroke-width="10" stroke-linejoin="miter"/>
</g>
<rect x="89.3" y="24.7" width="620.7" height="490.00000000000006" stroke="#000" stroke-width="1.3" fill="none"/>
<path d="M396.9,219.0 L402.9,219.0 L402.9,255.0 L409.9,255.0 L399.9,281.5 L389.9,255.0 L396.9,255.0 Z" fill="#000"/>
<path d="M477.0,293.0 L483.0,293.0 L483.0,329.0 L490.0,329.0 L480.0,355.5 L470.0,329.0 L477.0,329.0 Z" fill="#000"/>
<path d="M580.3,346.0 L586.3,346.0 L586.3,381.8 L593.3,381.8 L583.3,408.3 L573.3,381.8 L580.3,381.8 Z" fill="#000"/>
<path d="M683.9,456.0 L689.9,456.0 L689.9,494.5 L696.9,494.5 L686.9,521.0 L676.9,494.5 L683.9,494.5 Z" fill="#000"/>
<g stroke="#009900" stroke-width="2.0" fill="none">
<path d="M121.0,79.4H151.0M121.0,75.6V83.2M151.0,75.6V83.2M138.6,67.3V94.0M134.8,67.3H142.4M134.8,94.0H142.4"/>
<rect x="133.2" y="74.0" width="10.8" height="10.8" fill="#009900" stroke="none"/>
<path d="M152.1,92.8H182.1M152.1,89.0V96.6M182.1,89.0V96.6M169.7,83.4V103.9M165.9,83.4H173.5M165.9,103.9H173.5"/>
<rect x="164.3" y="87.4" width="10.8" height="10.8" fill="#009900" stroke="none"/>
<path d="M183.3,108.0H213.3M183.3,104.2V111.8M213.3,104.2V111.8M200.8,99.6V117.0M197.0,99.6H204.6M197.0,117.0H204.6"/>
<rect x="195.4" y="102.6" width="10.8" height="10.8" fill="#009900" stroke="none"/>
<path d="M214.4,124.6H244.4M214.4,120.8V128.4M244.4,120.8V128.4M231.9,116.9V134.3M228.1,116.9H235.7M228.1,134.3H235.7"/>
<rect x="226.5" y="119.2" width="10.8" height="10.8" fill="#009900" stroke="none"/>
<path d="M245.5,137.8H275.5M245.5,134.0V141.6M275.5,134.0V141.6M263.2,128.0V149.0M259.4,128.0H267.0M259.4,149.0H267.0"/>
<rect x="257.8" y="132.4" width="10.8" height="10.8" fill="#009900" stroke="none"/>
<path d="M276.6,167.0H306.6M276.6,163.2V170.8M306.6,163.2V170.8M294.3,154.2V184.9M290.5,154.2H298.1M290.5,184.9H298.1"/>
<rect x="288.9" y="161.6" width="10.8" height="10.8" fill="#009900" stroke="none"/>
<path d="M307.8,174.2H337.8M307.8,170.4V178.0M337.8,170.4V178.0M325.4,162.8V188.1M321.6,162.8H329.2M321.6,188.1H329.2"/>
<rect x="320.0" y="168.8" width="10.8" height="10.8" fill="#009900" stroke="none"/>
<path d="M338.9,184.1H368.9M338.9,180.3V187.9M368.9,180.3V187.9M356.6,171.5V200.8M352.8,171.5H360.4M352.8,200.8H360.4"/>
<rect x="351.2" y="178.7" width="10.8" height="10.8" fill="#009900" stroke="none"/>
<path d="M370.0,192.4H400.0M370.0,188.6V196.2M400.0,188.6V196.2M387.5,180.1V208.3M383.7,180.1H391.3M383.7,208.3H391.3"/>
<rect x="382.1" y="187.0" width="10.8" height="10.8" fill="#009900" stroke="none"/>
</g>
<g stroke="#ffa500" stroke-width="2.7" fill="none">
<path d="M400.5,208.9H415.1M400.5,205.2V212.6M415.1,205.2V212.6M407.8,195.3V225.4M404.1,195.3H411.5M404.1,225.4H411.5"/>
<circle cx="407.8" cy="208.9" r="5.2"/>
<path d="M416.1,222.0H430.7M416.1,218.3V225.7M430.7,218.3V225.7M423.4,207.2V239.7M419.7,207.2H427.1M419.7,239.7H427.1"/>
<circle cx="423.4" cy="222.0" r="5.2"/>
<path d="M431.4,224.8H446.0M431.4,221.1V228.5M446.0,221.1V228.5M438.7,209.1V246.7M435.0,209.1H442.4M435.0,246.7H442.4"/>
<circle cx="438.7" cy="224.8" r="5.2"/>
<path d="M447.6,252.3H462.2M447.6,248.6V256.0M462.2,248.6V256.0M454.9,231.1V285.2M451.2,231.1H458.6M451.2,285.2H458.6"/>
<circle cx="454.9" cy="252.3" r="5.2"/>
<path d="M463.2,263.8H477.8M463.2,260.1V267.5M477.8,260.1V267.5M470.5,242.8V298.2M466.8,242.8H474.2M466.8,298.2H474.2"/>
<circle cx="470.5" cy="263.8" r="5.2"/>
</g>
<g fill="none">
<path d="M661.1,44.9H697.7" stroke="#00ff00" stroke-width="2.6" stroke-dasharray="3.49 3.49"/>
<path d="M661.1,65.6H697.7" stroke="#0000ff" stroke-width="2.6" stroke-dasharray="13.9 3.3 2.5 3.3"/>
<path d="M661.1,86.3H697.7" stroke="#ff00ff" stroke-width="2.6" stroke-dasharray="13.9 3.3 2.6 3.2 2.6 3.3"/>
<path d="M661.1,107.1H697.7" stroke="#00ffff" stroke-width="2.6" stroke-dasharray="13.9 3.3 2.6 3.25 2.6 3.25 2.6 3.05"/>
<path d="M661.1,127.8H697.7" stroke="#ff0000" stroke-width="4.8"/>
<path d="M661.1,148.5H697.7" stroke="#000" stroke-width="4.8" stroke-dasharray="13.8 9.4"/>
<path d="M661.1,169.3H697.7" stroke="#000" stroke-width="10"/>
<path d="M660.6,190.0H698.2M660.6,186.5V193.5M698.2,186.5V193.5" stroke="#009900" stroke-width="2.0"/>
<rect x="673.9" y="184.5" width="11" height="11" fill="#009900"/>
<path d="M660.6,210.8H698.2M660.6,207.3V214.3M698.2,207.3V214.3" stroke="#ffa500" stroke-width="2.7"/>
<circle cx="679.4" cy="210.8" r="5.2" stroke="#ffa500" stroke-width="2.6" fill="none"/>
</g>
<g font-family="'Liberation Serif', serif" fill="#000" stroke="#000" stroke-width="0.22" filter="url(#tf)" style="font-kerning:none;font-variant-ligatures:none">
<text x="89.4" y="544.5" font-size="20.7" text-anchor="middle">10<tspan font-size="15.6" dy="-10.5">2</tspan></text>
<text x="192.8" y="544.5" font-size="20.7" text-anchor="middle">10<tspan font-size="15.6" dy="-10.5">3</tspan></text>
<text x="296.3" y="544.5" font-size="20.7" text-anchor="middle">10<tspan font-size="15.6" dy="-10.5">4</tspan></text>
<text x="399.8" y="544.5" font-size="20.7" text-anchor="middle">10<tspan font-size="15.6" dy="-10.5">5</tspan></text>
<text x="503.2" y="544.5" font-size="20.7" text-anchor="middle">10<tspan font-size="15.6" dy="-10.5">6</tspan></text>
<text x="606.6" y="544.5" font-size="20.7" text-anchor="middle">10<tspan font-size="15.6" dy="-10.5">7</tspan></text>
<text x="710.1" y="544.5" font-size="20.7" text-anchor="middle">10<tspan font-size="15.6" dy="-10.5">8</tspan></text>
<text x="42.6" y="459.9" font-size="20.7">10<tspan font-size="15.6" dy="-10.5">-6</tspan></text>
<text x="722.4" y="485.0" font-size="20.7">10<tspan font-size="15.6" dy="-10.5">-6</tspan></text>
<text x="42.6" y="337.4" font-size="20.7">10<tspan font-size="15.6" dy="-10.5">-5</tspan></text>
<text x="722.4" y="362.5" font-size="20.7">10<tspan font-size="15.6" dy="-10.5">-5</tspan></text>
<text x="42.6" y="214.9" font-size="20.7">10<tspan font-size="15.6" dy="-10.5">-4</tspan></text>
<text x="722.4" y="240.0" font-size="20.7">10<tspan font-size="15.6" dy="-10.5">-4</tspan></text>
<text x="42.6" y="92.4" font-size="20.7">10<tspan font-size="15.6" dy="-10.5">-3</tspan></text>
<text x="722.4" y="117.5" font-size="20.7">10<tspan font-size="15.6" dy="-10.5">-3</tspan></text>
<text x="648.6" y="51.9" font-size="20.7" text-anchor="end">FSRQ (MA12)</text>
<text x="648.6" y="72.6" font-size="20.7" text-anchor="end">BL Lac (Fermi10+EBL)</text>
<text x="648.6" y="93.3" font-size="20.7" text-anchor="end">Radio Galaxy (YI11)</text>
<text x="648.6" y="114.1" font-size="20.7" text-anchor="end">Starburst Galaxy (Fermi12)</text>
<text x="648.6" y="134.8" font-size="20.7" text-anchor="end">Cascade + Absorbed (Self-Limit)</text>
<text x="648.6" y="155.5" font-size="20.7" text-anchor="end">Total</text>
<text x="648.6" y="176.2" font-size="20.7" text-anchor="end">Upper Limit</text>
<text x="648.6" y="196.9" font-size="20.7" text-anchor="end"><tspan font-style="italic">Fermi</tspan> (Abdo et al. 2010)</text>
<text x="648.6" y="217.7" font-size="20.7" text-anchor="end"><tspan font-style="italic">Fermi</tspan> (TeVPA 2011)</text>
<text x="399.2" y="573.4" font-size="22.8" text-anchor="middle">Photon Energy [MeV]</text>
<text transform="translate(27.0,272.9) rotate(-90)" font-size="22.9" text-anchor="middle"><tspan font-style="italic">E</tspan><tspan font-size="18.3" font-style="italic" dy="-11.8">2</tspan><tspan dy="11.8"> </tspan><tspan font-style="italic">dN/dE</tspan> [MeV<tspan font-size="18.3" dy="-11.8">2</tspan><tspan dy="11.8">/cm</tspan><tspan font-size="18.3" dy="-11.8">2</tspan><tspan dy="11.8">/s/sr/MeV]</tspan></text>
<text transform="translate(790.0,270.8) rotate(-90)" font-size="22.9" text-anchor="middle">ν<tspan dx="1">I</tspan><tspan font-size="18.3" dy="7.5">ν</tspan><tspan dy="-7.5" dx="1"> [nW/m</tspan><tspan font-size="18.3" dy="-11.8">2</tspan><tspan dy="11.8">/sr]</tspan></text>
<text x="201.5" y="58" font-size="23.1">Γ<tspan font-size="18.3" dy="7.5">ph</tspan><tspan dy="-7.5">=1.5, E</tspan><tspan font-size="18.3" dy="7.5">max</tspan><tspan dy="-7.5"> = 60 TeV,</tspan></text>
<text x="200.2" y="90.8" font-size="23.1"><tspan font-style="italic">j</tspan><tspan font-size="18.3" dy="7.5">int</tspan></text>
<path transform="translate(227.3,81.7)" d="M14,0.4 C11,0.4 9.3,2.1 7.4,3.7 C5.8,5.3 4.8,6.9 3.1,6.9 C1.4,6.9 0.6,5.4 0.6,3.6 C0.6,1.8 1.4,0.4 3.1,0.4 C4.8,0.4 5.8,2.1 7.4,3.7 C9.3,5.4 11,6.9 14,6.9" fill="none" stroke="#000" stroke-width="1.35"/>
<text x="243.5" y="90.8" font-size="23.1">(1+<tspan font-style="italic">z</tspan>)<tspan font-size="18.3" dy="-10.5" dx="-0.5">0</tspan></text>
</g>
</svg>
</body></html>
